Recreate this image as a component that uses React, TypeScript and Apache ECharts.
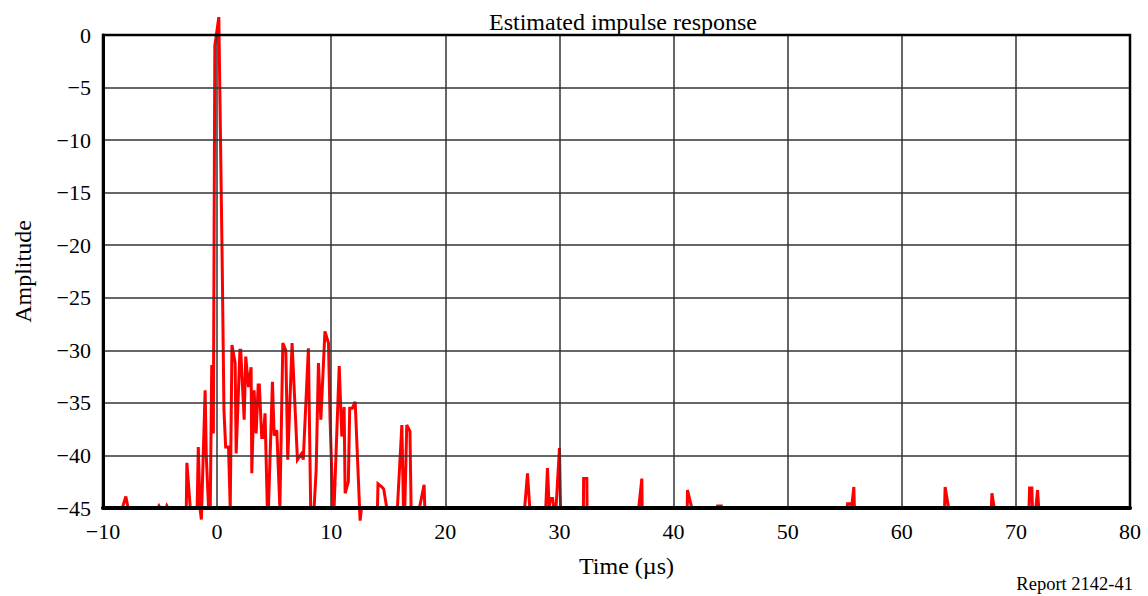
import React, { useEffect, useRef } from "react";
import * as echarts from "echarts";

const titleText = "Estimated impulse response";
const xAxisName = "Time (µs)";
const yAxisName = "Amplitude";
const reportLabel = "Report 2142-41";

const timeUs: number[] = [
  -10, -8.3, -8.0, -7.8, -5.2, -5.1, -5.0, -4.45, -4.4, -4.3,
  -2.7, -2.65, -2.35, -1.75, -1.65, -1.5, -1.38, -1.05, -0.95, -0.75,
  -0.6, -0.47, -0.33, -0.2, 0.15, 0.45, 0.6, 0.75, 1.0, 1.15,
  1.3, 1.58, 1.67, 2.0, 2.07, 2.37, 2.51, 2.75, 2.98, 3.04,
  3.1, 3.24, 3.42, 3.6, 3.7, 3.91, 4.05, 4.2, 4.4, 4.5,
  4.85, 5.0, 5.23, 5.5, 5.55, 5.76, 6.02, 6.19, 6.57, 7.04,
  7.42, 7.55, 8.0, 8.2, 8.5, 8.68, 8.88, 9.09, 9.45, 9.76,
  9.9, 10.15, 10.25, 10.7, 10.93, 11.13, 11.22, 11.5, 11.62, 11.85,
  12.1, 12.38, 12.53, 12.65, 14.05, 14.1, 14.45, 14.6, 14.87, 15.8,
  16.19, 16.33, 16.45, 16.62, 16.9, 17.0, 17.73, 18.14, 18.2, 26.95,
  27.2, 27.4, 28.8, 28.95, 29.1, 29.2, 29.4, 29.5, 29.7, 30.0,
  30.1, 32.1, 32.12, 32.4, 32.42, 36.95, 37.22, 37.25, 41.2, 41.22,
  41.6, 43.8, 43.85, 44.2, 44.25, 55.2, 55.25, 55.5, 55.6, 55.8,
  55.85, 63.75, 63.8, 64.1, 67.85, 67.9, 68.1, 71.15, 71.2, 71.4,
  71.45, 71.75, 71.9, 72.0, 80
];

const amplitude: number[] = [
  -45, -45, -43.9, -45, -45, -44.8, -45, -45, -44.8, -45,
  -45, -40.7, -45, -45, -39.2, -45, -46.1, -33.8, -40, -45,
  -45, -31.4, -37.9, -1.0, 1.7, -22, -35.7, -39.2, -39.2, -45,
  -29.5, -31.2, -39.8, -30.0, -30.0, -36.6, -30.6, -33.5, -31.6, -41.7,
  -41.7, -33.8, -37.9, -33.3, -33.3, -38.3, -38.3, -36.0, -45, -45,
  -33.0, -38.1, -37.6, -45, -45, -29.3, -30.0, -40.4, -29.3, -40.4,
  -39.8, -40.4, -29.8, -45, -45, -41.4, -31.2, -36.6, -28.2, -29.3,
  -36.6, -45, -45, -31.5, -38.2, -35.4, -43.6, -42.5, -35.5, -35.5,
  -34.9, -42.3, -46.2, -45, -45, -42.7, -43.0, -43.2, -45, -45,
  -37.1, -45, -45, -37.1, -37.7, -45, -45, -42.8, -45, -45,
  -41.7, -45, -45, -41.2, -45, -44.1, -44.1, -45, -45, -39.3,
  -45, -45, -42.2, -42.2, -45, -45, -42.2, -45, -45, -43.3,
  -45, -45, -44.8, -44.8, -45, -45, -44.6, -44.6, -45, -43.0,
  -45, -45, -43.0, -45, -45, -43.6, -45, -45, -43.1, -43.1,
  -45, -45, -43.3, -45, -45
];

const FONT = "'Liberation Serif', 'Times New Roman', serif";

const minusFmt = (v: number) => String(v).replace("-", "\u2212");

export default function App() {
  const ref = useRef<HTMLDivElement>(null);
  useEffect(() => {
    document.body.style.margin = "0";
    const chart = echarts.init(ref.current!, null, { renderer: "svg" });
    const data = timeUs.map((t, i) => [t, amplitude[i]]);
    chart.setOption({
      animation: false,
      backgroundColor: "#ffffff",
      textStyle: { fontFamily: FONT },
      title: [
        {
          text: titleText,
          left: 618,
          top: 5,
          textAlign: "center",
          textStyle: { fontFamily: FONT, fontSize: 24, fontWeight: "normal", color: "#000" },
        },
        {
          text: reportLabel,
          right: 10,
          top: 569,
          textStyle: { fontFamily: FONT, fontSize: 18.5, fontWeight: "normal", color: "#000" },
        },
      ],
      grid: {
        left: 103,
        right: 18,
        top: 35,
        bottom: 88,
        show: true,
        borderColor: "#000",
        borderWidth: 2.5,
        backgroundColor: "transparent",
        z: 6,
      },
      xAxis: {
        type: "value",
        min: -10,
        max: 80,
        interval: 10,
        z: 5,
        name: xAxisName,
        nameLocation: "middle",
        nameGap: 46,
        nameTextStyle: { fontFamily: FONT, fontSize: 24, color: "#000", padding: [0, 0, 0, 20] },
        axisLine: { show: true, onZero: false, lineStyle: { color: "#000", width: 4 } },
        axisTick: { show: false },
        axisLabel: { formatter: minusFmt, fontFamily: FONT, fontSize: 22, color: "#000", margin: 12 },
        splitLine: { show: true, lineStyle: { color: "#333", width: 1.5 } },
      },
      yAxis: {
        type: "value",
        min: -45,
        max: 0,
        interval: 5,
        z: 5,
        name: yAxisName,
        nameLocation: "middle",
        nameGap: 68,
        nameTextStyle: { fontFamily: FONT, fontSize: 24, color: "#000" },
        axisLine: { show: true, onZero: false, lineStyle: { color: "#000", width: 3 } },
        axisTick: { show: false },
        axisLabel: { formatter: minusFmt, fontFamily: FONT, fontSize: 22, color: "#000", margin: 12 },
        splitLine: { show: true, lineStyle: { color: "#333", width: 1.5 } },
      },
      series: [
        {
          type: "line",
          data,
          clip: false,
          showSymbol: false,
          symbol: "none",
          z: 1,
          lineStyle: { color: "#ff0000", width: 3, join: "miter" },
        },
      ],
    });
    return () => chart.dispose();
  }, []);
  return <div ref={ref} style={{ position: "fixed", left: 0, top: 0, width: 1148, height: 596 }} />;
}
